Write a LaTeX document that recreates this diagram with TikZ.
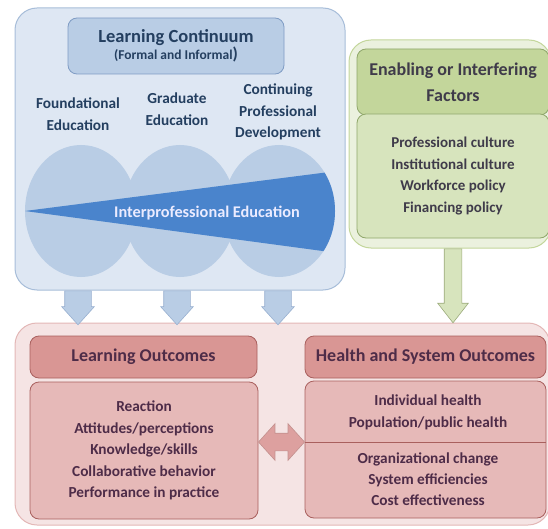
\documentclass[tikz,border=0pt]{standalone}
\usepackage{fontspec}
\setmainfont{Carlito}
\usepackage{xcolor}
\usepackage{tikz}
\usetikzlibrary{positioning}
\usetikzlibrary{calc}
\usetikzlibrary{shapes.geometric}
\usetikzlibrary{shapes.arrows}

\definecolor{bluepale}{HTML}{DEE7F3}
\definecolor{blueline}{HTML}{A7BDD9}
\definecolor{bluemid}{HTML}{B9CDE5}
\definecolor{bluedark}{HTML}{7F9CC4}
\definecolor{bluewedge}{HTML}{4A84CC}
\definecolor{bluetext}{HTML}{243F60}
\definecolor{greenpale}{HTML}{EBF1DE}
\definecolor{greenline}{HTML}{C3D69B}
\definecolor{greenhead}{HTML}{C3D69B}
\definecolor{greenbody}{HTML}{D7E4BD}
\definecolor{greendark}{HTML}{8FA66A}
\definecolor{greentext}{HTML}{3F3B4A}
\definecolor{pinkpale}{HTML}{F5E4E4}
\definecolor{pinkline}{HTML}{E3B7B6}
\definecolor{pinkhead}{HTML}{D99694}
\definecolor{pinkbody}{HTML}{E6B9B8}
\definecolor{pinkdark}{HTML}{A9605E}
\definecolor{pinktext}{HTML}{4E2C48}

\begin{document}
\begin{tikzpicture}[x=1pt,y=-1pt,
    panel/.style={draw, rounded corners=22pt, line width=1pt},
    inbox/.style={draw, rounded corners=9pt, line width=0.8pt, align=center, font=\bfseries},
    label/.style={align=center, font=\bfseries},
    blockarrow/.style={single arrow, draw, line width=0.6pt, inner xsep=0pt, rotate=-90}]
    \useasboundingbox (0,0) rectangle (548,529);

    % Learning continuum panel
    \node[panel, fill=bluepale, draw=blueline, minimum width=330pt, minimum height=282pt] (lc) at (180,149) {};
    \node[inbox, fill=bluemid, draw=bluedark, text=bluetext, minimum width=216pt, minimum height=56pt] (lct) at (176,46)
        {\fontsize{18.5}{27}\selectfont Learning Continuum\\{\fontsize{13.5}{15}\selectfont (Formal and Informal}\fontsize{17}{27}\selectfont)};

    \node[label, text=bluetext, font=\bfseries\fontsize{15.3}{22}\selectfont] (fe) at (78,114) {Foundational\\Education};
    \node[label, text=bluetext, font=\bfseries\fontsize{15.3}{22}\selectfont] (ge) at (177,109) {Graduate\\Education};
    \node[label, text=bluetext, font=\bfseries\fontsize{15.3}{21.5}\selectfont] (cpd) at (278,112) {Continuing\\Professional\\Development};

    \node[ellipse, fill=bluemid, inner sep=0pt, minimum width=112pt, minimum height=132pt] (c1) at (81,211) {};
    \node[ellipse, fill=bluemid, inner sep=0pt, minimum width=112pt, minimum height=132pt] (c2) at (180,211) {};
    \node[ellipse, fill=bluemid, inner sep=0pt, minimum width=112pt, minimum height=132pt] (c3) at (279,211) {};
    \begin{scope}
        \clip (c1.center) ellipse [x radius=56pt, y radius=66pt]
              (c2.center) ellipse [x radius=56pt, y radius=66pt]
              (c3.center) ellipse [x radius=56pt, y radius=66pt];
        \fill[bluewedge] (c1.west) -- (345,170) -- (345,254) -- cycle;
    \end{scope}
    \node[label, text=white!92!blue, font=\bfseries\fontsize{16.3}{19}\selectfont] (ipe) at (207,213) {Interprofessional Education};

    % Enabling or interfering factors
    \node[panel, fill=greenpale, draw=greenline, minimum width=202pt, minimum height=208pt] (ef) at (450,144) {};
    \node[inbox, fill=greenhead, draw=greendark, text=greentext, minimum width=192pt, minimum height=66pt,
        font=\bfseries\fontsize{18}{26}\selectfont] (efh) at (453,82) {Enabling or Interfering\\Factors};
    \node[inbox, fill=greenbody, draw=greendark, text=greentext, minimum width=192pt, minimum height=124pt,
        font=\bfseries\fontsize{15}{21.5}\selectfont] (efb) at (453,176)
        {Professional culture\\Institutional culture\\Workforce policy\\Financing policy};

    % Outcomes panel
    \node[panel, fill=pinkpale, draw=pinkline, minimum width=535pt, minimum height=202pt] (out) at (282.5,424) {};
    \node[inbox, fill=pinkhead, draw=pinkdark, text=pinktext, minimum width=227pt, minimum height=42pt,
        font=\bfseries\fontsize{18}{20}\selectfont] (loh) at (143.5,357) {Learning Outcomes};
    \node[inbox, fill=pinkbody, draw=pinkdark, text=pinktext, minimum width=228pt, minimum height=137pt,
        font=\bfseries\fontsize{15.3}{21.5}\selectfont] (lob) at (144,450.5)
        {Reaction\\Attitudes/perceptions\\Knowledge/skills\\Collaborative behavior\\Performance in practice};
    \node[inbox, fill=pinkhead, draw=pinkdark, text=pinktext, minimum width=241pt, minimum height=42pt,
        font=\bfseries\fontsize{18}{20}\selectfont] (hsoh) at (425.5,357) {Health and System Outcomes};
    \node[inbox, fill=pinkbody, draw=pinkdark, text=pinktext, minimum width=241pt, minimum height=137pt] (hsob) at (425.5,449.5) {};
    \coordinate (split) at (0,442);
    \draw[pinkdark, line width=0.6pt] (hsob.west |- split) -- (hsob.east |- split);
    \node[label, text=pinktext, font=\bfseries\fontsize{15.3}{22}\selectfont] (hso1) at (428,412) {Individual health\\Population/public health};
    \node[label, text=pinktext, font=\bfseries\fontsize{15.3}{21}\selectfont] (hso2) at (428,479) {Organizational change\\System efficiencies\\Cost effectiveness};

    % Block arrows
    \node[blockarrow, fill=bluemid, draw=bluedark!80, anchor=tail, minimum height=34pt, inner ysep=13pt,
        single arrow head extend=3pt, single arrow tip angle=84] (a1) at (lc.south -| fe.south) {};
    \node[blockarrow, fill=bluemid, draw=bluedark!80, anchor=tail, minimum height=34pt, inner ysep=13pt,
        single arrow head extend=3pt, single arrow tip angle=84] (a2) at (lc.south -| ge.south) {};
    \node[blockarrow, fill=bluemid, draw=bluedark!80, anchor=tail, minimum height=34pt, inner ysep=13pt,
        single arrow head extend=3pt, single arrow tip angle=84] (a3) at (lc.south -| cpd.south) {};
    \node[blockarrow, fill=greenbody, draw=greenline!80!black, anchor=tail, minimum height=74pt, inner ysep=8.5pt,
        single arrow head extend=6.5pt, single arrow tip angle=76] (a4) at (ef.south -| efb.south) {};
    \node[double arrow, draw=pinkdark!70, fill=pinkhead!90, line width=0.6pt, inner xsep=0pt, inner ysep=8.5pt,
        minimum height=46pt, double arrow head extend=9.5pt, double arrow tip angle=96] (a5)
        at ($(lob.east |- split)!0.5!(hsob.west |- split)$) {};
\end{tikzpicture}
\end{document}
